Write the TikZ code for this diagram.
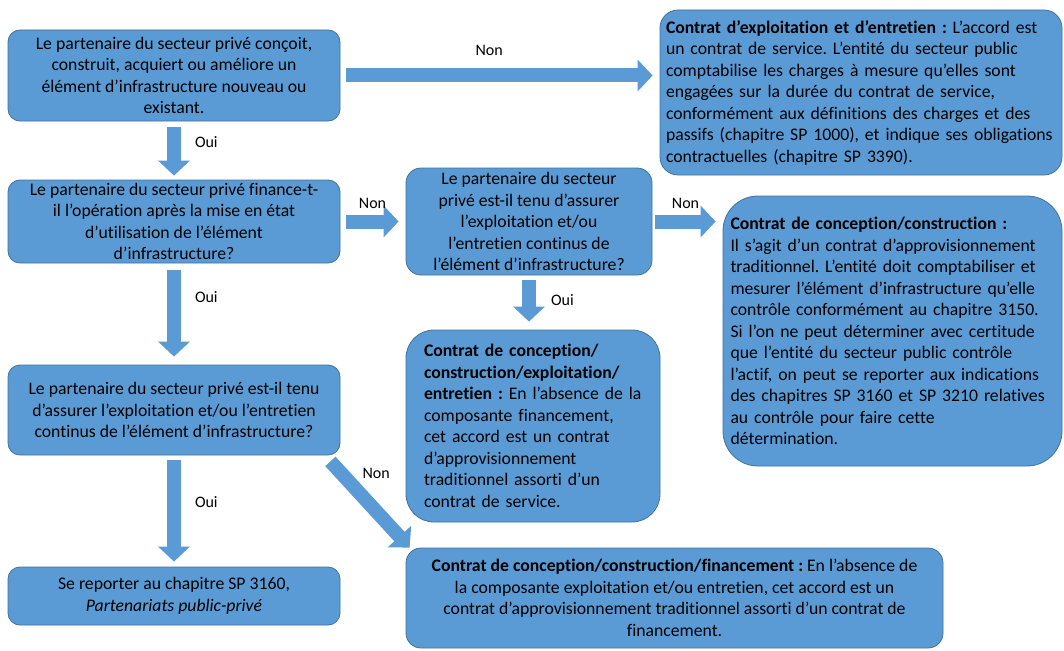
\documentclass[tikz,border=0pt]{standalone}
\usepackage{fontspec}
\setmainfont{Carlito}[Ligatures=NoCommon]
\usepackage{xcolor}
\usepackage{tikz}
\usetikzlibrary{arrows.meta,positioning}
\frenchspacing
\hyphenpenalty=10000

\definecolor{boxblue}{HTML}{5B9BD5}
\definecolor{boxline}{HTML}{41719C}

\tikzset{
  box/.style={draw=boxline, fill=boxblue, line width=0.8pt, rounded corners=12pt, align=center, inner sep=0pt},
  bigarrow/.style={draw=boxblue, line width=14pt, -{Triangle[length=15pt,width=31pt,fill=boxblue]}},
  lab/.style={inner sep=0pt, outer sep=0pt, font=\fontsize{16}{19}\selectfont}
}

\begin{document}
\begin{tikzpicture}[x=1pt, y=1pt, font=\fontsize{17.7}{21.5}\selectfont]
\useasboundingbox (0,0) rectangle (1064,-650);

% questions, left column
\node[box, minimum width=332, minimum height=91] (q1) at (174,-75.5) {Le partenaire du secteur privé conçoit,\\ construit, acquiert ou améliore un\\ élément d’infrastructure nouveau ou\\ existant.};
\node[box, minimum width=332, minimum height=83] (q2) at (174,-221.5) {Le partenaire du secteur privé finance-t-\\ il l’opération après la mise en état\\ d’utilisation de l’élément\\ d’infrastructure?};
\node[box, minimum width=332, minimum height=90] (q3) at (174,-410) {Le partenaire du secteur privé est-il tenu\\ d’assurer l’exploitation et/ou l’entretien\\ continus de l’élément d’infrastructure?};
\node[box, minimum width=332, minimum height=58] (ppp) at (174,-596) {Se reporter au chapitre SP 3160,\\ \textit{Partenariats public-privé}};

% middle question
\node[box, rounded corners=15pt, minimum width=246, minimum height=107] (q4) at (529,-221.5) {Le partenaire du secteur\\ privé est-il tenu d’assurer\\ l’exploitation et/ou\\ l’entretien continus de\\ l’élément d’infrastructure?};

% contracts
\node[box, rounded corners=18pt, align=left, text width=390, minimum width=402, minimum height=165] (oe) at (861,-92.5) {\textbf{Contrat d’exploitation et d’entretien :} L’accord est\\ un contrat de service. L’entité du secteur public\\ comptabilise les charges à mesure qu’elles sont\\ engagées sur la durée du contrat de service,\\ conformément aux définitions des charges et des\\ passifs (chapitre SP 1000), et indique ses obligations\\ contractuelles (chapitre SP 3390).};
\node[box, rounded corners=35pt, align=left, text width=324, minimum width=339, minimum height=270] (cc) at (892.5,-331) {\textbf{Contrat de conception/construction :}\\ Il s’agit d’un contrat d’approvisionnement\\ traditionnel. L’entité doit comptabiliser et\\ mesurer l’élément d’infrastructure qu’elle\\ contrôle conformément au chapitre 3150.\\ Si l’on ne peut déterminer avec certitude\\ que l’entité du secteur public contrôle\\ l’actif, on peut se reporter aux indications\\ des chapitres SP 3160 et SP 3210 relatives\\ au contrôle pour faire cette\\ détermination.};
\node[box, rounded corners=28pt, align=left, text width=218, minimum width=254, minimum height=192] (cce) at (533,-426) {\textbf{Contrat de conception/}\\ \textbf{construction/exploitation/}\\ \textbf{entretien :} En l’absence de la\\ composante financement,\\ cet accord est un contrat\\ d’approvisionnement\\ traditionnel assorti d’un\\ contrat de service.};
\node[box, rounded corners=15pt, minimum width=537, minimum height=100] (ccf) at (674.5,-598) {\textbf{Contrat de conception/construction/financement :} En l’absence de\\ la composante exploitation et/ou entretien, cet accord est un\\ contrat d’approvisionnement traditionnel assorti d’un contrat de\\ financement.};

% arrows
\draw[bigarrow] ([xshift=6]q1.east) -- ([xshift=-7]q1.east -| oe.west) node[lab, pos=0.466, above=20pt] {Non};
\draw[bigarrow] ([yshift=-6]q1.south) -- ([yshift=4]q2.north) node[lab, pos=0.31, right=21pt] {Oui};
\draw[bigarrow] ([xshift=6]q2.east) -- ([xshift=-7]q2.east -| q4.west) node[lab, midway, above=12.5pt] {Non};
\draw[bigarrow] ([xshift=3]q4.east) -- ([xshift=-7]q4.east -| cc.west) node[lab, midway, above=12.5pt] {Non};
\draw[bigarrow] ([yshift=-5]q4.south) -- ([yshift=8]q4.south |- cce.north) node[lab, pos=0.48, right=22pt] {Oui};
\draw[bigarrow] ([yshift=-7]q2.south) -- ([yshift=8]q3.north) node[lab, pos=0.31, right=21pt] {Oui};
\draw[bigarrow] ([yshift=-5]q3.south) -- ([yshift=5]ppp.north) node[lab, pos=0.41, right=21pt] {Oui};
\draw[bigarrow] ([shift={(-10,-6)}]q3.south east) -- ([xshift=4]ccf.north west) node[lab, pos=0.3, above right=12pt] {Non};
\end{tikzpicture}
\end{document}
